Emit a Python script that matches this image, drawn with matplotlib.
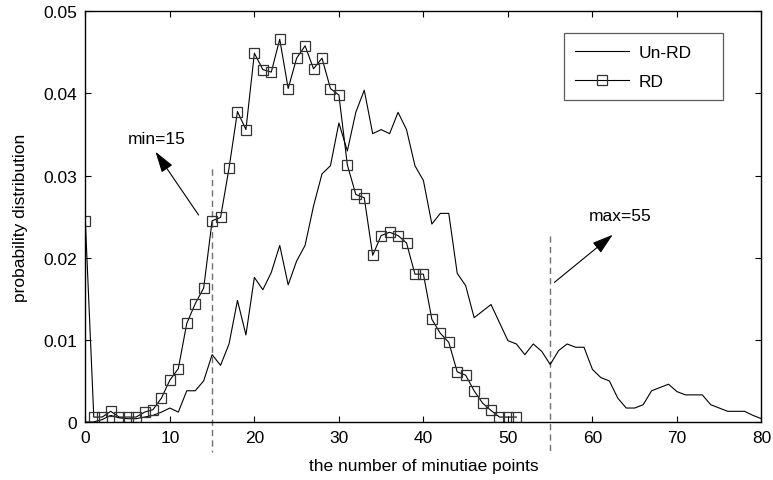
import numpy as np
import matplotlib
matplotlib.use("Agg")
import matplotlib.pyplot as plt

# ---- data ----
x_unrd = list(range(0, 81))
unrd = [0.0000, 0.0000, 0.0003, 0.0008, 0.0005, 0.0004, 0.0004, 0.0006, 0.0008, 0.0012,
        0.0017, 0.0012, 0.0038, 0.0038, 0.0050, 0.0082, 0.0069, 0.0095, 0.0148, 0.0106,
        0.0176, 0.0161, 0.0182, 0.0215, 0.0167, 0.0196, 0.0215, 0.0263, 0.0302, 0.0312,
        0.0364, 0.0330, 0.0377, 0.0404, 0.0351, 0.0356, 0.0351, 0.0377, 0.0356, 0.0312,
        0.0294, 0.0241, 0.0254, 0.0254, 0.0181, 0.0166, 0.0127, 0.0135, 0.0143, 0.0121,
        0.0099, 0.0095, 0.0082, 0.0095, 0.0086, 0.0070, 0.0087, 0.0095, 0.0091, 0.0091,
        0.0064, 0.0054, 0.0050, 0.0029, 0.0017, 0.0017, 0.0021, 0.0038, 0.0042, 0.0046,
        0.0037, 0.0033, 0.0033, 0.0033, 0.0021, 0.0017, 0.0013, 0.0013, 0.0013, 0.0008,
        0.0004]

x_rd = list(range(0, 52))
rd = [0.0245, 0.0006, 0.0006, 0.0013, 0.0006, 0.0006, 0.0006, 0.0012, 0.0015, 0.0029,
      0.0051, 0.0065, 0.0120, 0.0144, 0.0163, 0.0245, 0.0249, 0.0309, 0.0378, 0.0356,
      0.0449, 0.0429, 0.0426, 0.0466, 0.0406, 0.0443, 0.0458, 0.0430, 0.0443, 0.0406,
      0.0398, 0.0313, 0.0277, 0.0273, 0.0203, 0.0227, 0.0231, 0.0227, 0.0218, 0.0180,
      0.0180, 0.0125, 0.0108, 0.0097, 0.0061, 0.0057, 0.0038, 0.0023, 0.0014, 0.0006,
      0.0006, 0.0006]

x_ticks = [0, 10, 20, 30, 40, 50, 60, 70, 80]
y_ticks = [0, 0.01, 0.02, 0.03, 0.04, 0.05]
y_tick_labels = ["0", "0.01", "0.02", "0.03", "0.04", "0.05"]

min_x, max_x = 15, 55
min_line_top, max_line_top = 0.0308, 0.0226

plt.rcParams['font.family'] = ['Liberation Sans', 'DejaVu Sans']
FS = 12.5

fig = plt.figure(figsize=(7.73, 4.81), dpi=100)
ax = fig.add_axes([0.1104, 0.1206, 0.8747, 0.8538])

ax.plot(x_unrd, unrd, color='black', lw=0.8, label='Un-RD')
ax.plot(x_rd, rd, color='black', lw=0.8, marker='s', markersize=7,
        markerfacecolor='none', markeredgecolor='#333333', markeredgewidth=0.9,
        label='RD')

# dashed boundaries
for xv, top in [(min_x, min_line_top), (max_x, max_line_top)]:
    ax.plot([xv, xv], [top, -0.0037], color='#707070', lw=1.0,
            linestyle=(0, (4.5, 3)), clip_on=False, zorder=1)

# annotations
arrow_style = '-|>,head_length=0.65,head_width=0.2'
ax.annotate('', xy=(8.3, 0.0329), xytext=(13.4, 0.0252),
            arrowprops=dict(arrowstyle=arrow_style, mutation_scale=20,
                            color='black', lw=0.8, shrinkA=0, shrinkB=0))
ax.text(8.45, 0.0345, 'min=15', fontsize=FS, ha='center', va='center')

ax.annotate('', xy=(62.4, 0.0228), xytext=(55.5, 0.0170),
            arrowprops=dict(arrowstyle=arrow_style, mutation_scale=20,
                            color='black', lw=0.8, shrinkA=0, shrinkB=0))
ax.text(63.3, 0.0251, 'max=55', fontsize=FS, ha='center', va='center')

ax.set_xlim(0, 80)
ax.set_ylim(0, 0.05)
ax.set_xticks(x_ticks)
ax.set_yticks(y_ticks)
ax.set_yticklabels(y_tick_labels)
ax.tick_params(direction='in', length=4.5, width=0.8, top=True, right=True,
               labelsize=FS, pad=6)
for s in ax.spines.values():
    s.set_linewidth(1.0)

ax.set_xlabel('the number of minutiae points', fontsize=FS, labelpad=9)
ax.set_ylabel('probability distribution', fontsize=FS, labelpad=11)

leg = ax.legend(loc='lower left', bbox_to_anchor=(0.708, 0.784, 0.235, 0.161),
                mode='expand', fontsize=FS,
                frameon=True, fancybox=False, edgecolor='#333333',
                handlelength=3.1, handletextpad=0.55, borderpad=0.65,
                labelspacing=0.8, borderaxespad=0)
leg.get_frame().set_linewidth(0.9)

fig.savefig('out.png', dpi=100)
